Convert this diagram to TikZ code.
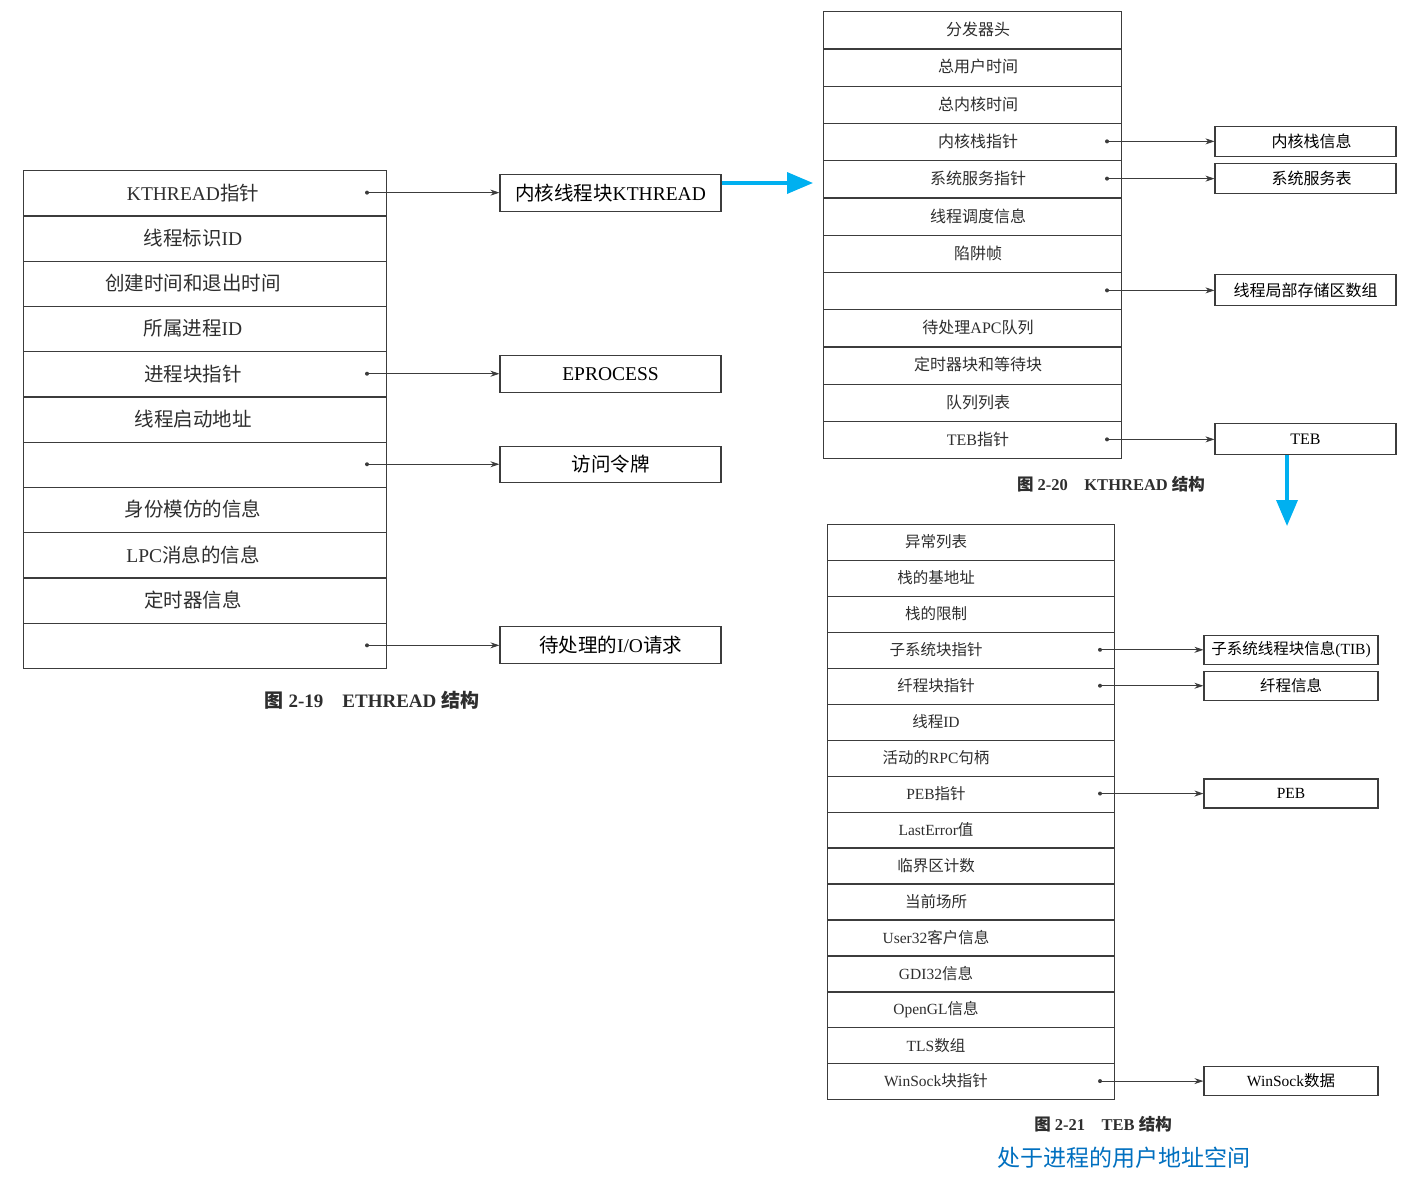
\documentclass[tikz,border=0pt]{standalone}
\usepackage{fontspec}
\setmainfont{Liberation Serif}
\newfontfamily\zhf{Noto Sans CJK SC}
\newcommand{\zh}[1]{{\zhf #1}}
\usetikzlibrary{arrows.meta,calc}
\definecolor{ink}{HTML}{2E2E2E}
\definecolor{lineink}{HTML}{3C3C3C}
\definecolor{arrowblue}{HTML}{00B0F0}
\definecolor{textblue}{HTML}{0070C0}
\tikzset{
  rowbox/.style={draw=lineink, line width=1.3pt, minimum height=#1, inner sep=0pt, anchor=north west},
  tbox/.style={draw=lineink, line width=1.2pt, rectangle, inner sep=0pt},
  rowtext/.style={text=ink, inner sep=0pt},
  ptr/.style={draw=lineink, line width=0.8pt, -{Stealth[length=9pt,width=6pt]}},
  dotmark/.style={circle, fill=lineink, inner sep=0pt, minimum size=4pt},
  bluearrow/.style={draw=arrowblue, line width=3.5pt, -{Triangle[length=26pt,width=21pt]}},
  caption/.style={text=ink, inner sep=0pt, font=\bfseries},
}
\begin{document}
\begin{tikzpicture}[x=1pt,y=-1pt]
\useasboundingbox (0,0) rectangle (1412,1183);
\fill[white] (0,0) rectangle (1412,1183);

% ================= ETHREAD (Fig 2-19) =================
\def\eh{45.27}
\foreach \i in {0,...,10} {
  \node[rowbox=\eh pt, minimum width=363pt] (e\i) at (23,{170+\i*\eh}) {};
}
\begin{scope}[font=\fontsize{19.5}{22}\selectfont]
\node[rowtext] (et0) at (193,{170+0.5*\eh}) {KTHREAD\zh{指针}};
\node[rowtext] (et1) at (193,{170+1.5*\eh}) {\zh{线程标识}ID};
\node[rowtext] (et2) at (193,{170+2.5*\eh}) {\zh{创建时间和退出时间}};
\node[rowtext] (et3) at (193,{170+3.5*\eh}) {\zh{所属进程}ID};
\node[rowtext] (et4) at (193,{170+4.5*\eh}) {\zh{进程块指针}};
\node[rowtext] (et5) at (193,{170+5.5*\eh}) {\zh{线程启动地址}};
\node[rowtext] (et7) at (193,{170+7.5*\eh}) {\zh{身份模仿的信息}};
\node[rowtext] (et8) at (193,{170+8.5*\eh}) {LPC\zh{消息的信息}};
\node[rowtext] (et9) at (193,{170+9.5*\eh}) {\zh{定时器信息}};
\end{scope}
\begin{scope}[font=\fontsize{19.5}{22}\selectfont]
\node[tbox, minimum width=221pt, minimum height=37pt] (kth) at (610.5,{170+0.5*\eh}) {\zh{内核线程块}KTHREAD};
\node[tbox, minimum width=221pt, minimum height=37pt] (epr) at (610.5,{170+4.5*\eh}) {EPROCESS};
\node[tbox, minimum width=221pt, minimum height=36pt] (tok) at (610.5,{170+6.5*\eh}) {\zh{访问令牌}};
\node[tbox, minimum width=221pt, minimum height=37pt] (iorq) at (610.5,{170+10.5*\eh}) {\zh{待处理的}I/O\zh{请求}};
\end{scope}
\foreach \r/\b in {0/kth,4/epr,6/tok,10/iorq} {
  \node[dotmark] (ed\r) at (367,{170+(\r+0.5)*\eh}) {};
  \draw[ptr] (ed\r.center) -- (ed\r.center -| \b.west);
}
\node[caption, font=\bfseries\fontsize{19}{22}\selectfont] (cap19) at (372,700) {\zh{图} 2-19\hspace{1em}ETHREAD \zh{结构}};

% blue arrow ETHREAD -> KTHREAD
\coordinate (kin) at (813,183);
\draw[bluearrow] (kth.east |- kin) -- (kin);

% ================= KTHREAD (Fig 2-20) =================
\def\kh{37.25}
\foreach \i in {0,...,11} {
  \node[rowbox=\kh pt, minimum width=298pt] (k\i) at (823,{11+\i*\kh}) {};
}
\begin{scope}[font=\fontsize{16}{19}\selectfont]
\node[rowtext] at (978,{11+0.5*\kh}) {\zh{分发器头}};
\node[rowtext] at (978,{11+1.5*\kh}) {\zh{总用户时间}};
\node[rowtext] at (978,{11+2.5*\kh}) {\zh{总内核时间}};
\node[rowtext] at (978,{11+3.5*\kh}) {\zh{内核栈指针}};
\node[rowtext] at (978,{11+4.5*\kh}) {\zh{系统服务指针}};
\node[rowtext] at (978,{11+5.5*\kh}) {\zh{线程调度信息}};
\node[rowtext] at (978,{11+6.5*\kh}) {\zh{陷阱帧}};
\node[rowtext] at (978,{11+8.5*\kh}) {\zh{待处理}APC\zh{队列}};
\node[rowtext] at (978,{11+9.5*\kh}) {\zh{定时器块和等待块}};
\node[rowtext] at (978,{11+10.5*\kh}) {\zh{队列列表}};
\node[rowtext] at (978,{11+11.5*\kh}) {TEB\zh{指针}};
\node[tbox, minimum width=181pt, minimum height=30pt] (ksi) at (1305.5,{11+3.5*\kh}) {\hspace{12pt}\zh{内核栈信息}};
\node[tbox, minimum width=181pt, minimum height=30pt] (sst) at (1305.5,{11+4.5*\kh}) {\hspace{12pt}\zh{系统服务表}};
\node[tbox, minimum width=181pt, minimum height=31pt] (tls) at (1305.5,{11+7.5*\kh}) {\zh{线程局部存储区数组}};
\node[tbox, minimum width=181pt, minimum height=31pt] (tebb) at (1305.5,{11+11.5*\kh}) {TEB};
\end{scope}
\foreach \r/\b in {3/ksi,4/sst,7/tls,11/tebb} {
  \node[dotmark] (kd\r) at (1107,{11+(\r+0.5)*\kh}) {};
  \draw[ptr] (kd\r.center) -- (kd\r.center -| \b.west);
}
\node[caption, font=\bfseries\fontsize{16.5}{20}\selectfont] (cap20) at (1111,484) {\zh{图} 2-20\hspace{1em}KTHREAD \zh{结构}};

% blue arrow KTHREAD TEB -> TEB structure
\coordinate (tin) at (1287,526);
\draw[bluearrow] (tebb.south -| tin) -- (tin);

% ================= TEB (Fig 2-21) =================
\def\th{35.94}
\foreach \i in {0,...,15} {
  \node[rowbox=\th pt, minimum width=287pt] (t\i) at (827,{524+\i*\th}) {};
}
\begin{scope}[font=\fontsize{15.5}{18}\selectfont]
\node[rowtext] at (936,{524+0.5*\th}) {\zh{异常列表}};
\node[rowtext] at (936,{524+1.5*\th}) {\zh{栈的基地址}};
\node[rowtext] at (936,{524+2.5*\th}) {\zh{栈的限制}};
\node[rowtext] at (936,{524+3.5*\th}) {\zh{子系统块指针}};
\node[rowtext] at (936,{524+4.5*\th}) {\zh{纤程块指针}};
\node[rowtext] at (936,{524+5.5*\th}) {\zh{线程}ID};
\node[rowtext] at (936,{524+6.5*\th}) {\zh{活动的}RPC\zh{句柄}};
\node[rowtext] at (936,{524+7.5*\th}) {PEB\zh{指针}};
\node[rowtext] at (936,{524+8.5*\th}) {LastError\zh{值}};
\node[rowtext] at (936,{524+9.5*\th}) {\zh{临界区计数}};
\node[rowtext] at (936,{524+10.5*\th}) {\zh{当前场所}};
\node[rowtext] at (936,{524+11.5*\th}) {User32\zh{客户信息}};
\node[rowtext] at (936,{524+12.5*\th}) {GDI32\zh{信息}};
\node[rowtext] at (936,{524+13.5*\th}) {OpenGL\zh{信息}};
\node[rowtext] at (936,{524+14.5*\th}) {TLS\zh{数组}};
\node[rowtext] at (936,{524+15.5*\th}) {WinSock\zh{块指针}};
\node[tbox, minimum width=174pt, minimum height=29pt] (tib) at (1291,{524+3.5*\th}) {\zh{子系统线程块信息}(TIB)};
\node[tbox, minimum width=174pt, minimum height=29pt] (fib) at (1291,{524+4.5*\th}) {\zh{纤程信息}};
\node[tbox, minimum width=174pt, minimum height=29pt] (peb) at (1291,{524+7.5*\th}) {PEB};
\node[tbox, minimum width=174pt, minimum height=29pt] (wsd) at (1291,{524+15.5*\th}) {WinSock\zh{数据}};
\end{scope}
\foreach \r/\b in {3/tib,4/fib,7/peb,15/wsd} {
  \node[dotmark] (td\r) at (1100,{524+(\r+0.5)*\th}) {};
  \draw[ptr] (td\r.center) -- (td\r.center -| \b.west);
}
\node[caption, font=\bfseries\fontsize{16.5}{20}\selectfont] (cap21) at (1103,1124) {\zh{图} 2-21\hspace{1em}TEB \zh{结构}};
\node[text=textblue, inner sep=0pt, font=\fontsize{23}{26}\selectfont] (note) at (1124,1158) {\zh{处于进程的用户地址空间}};
\end{tikzpicture}
\end{document}
